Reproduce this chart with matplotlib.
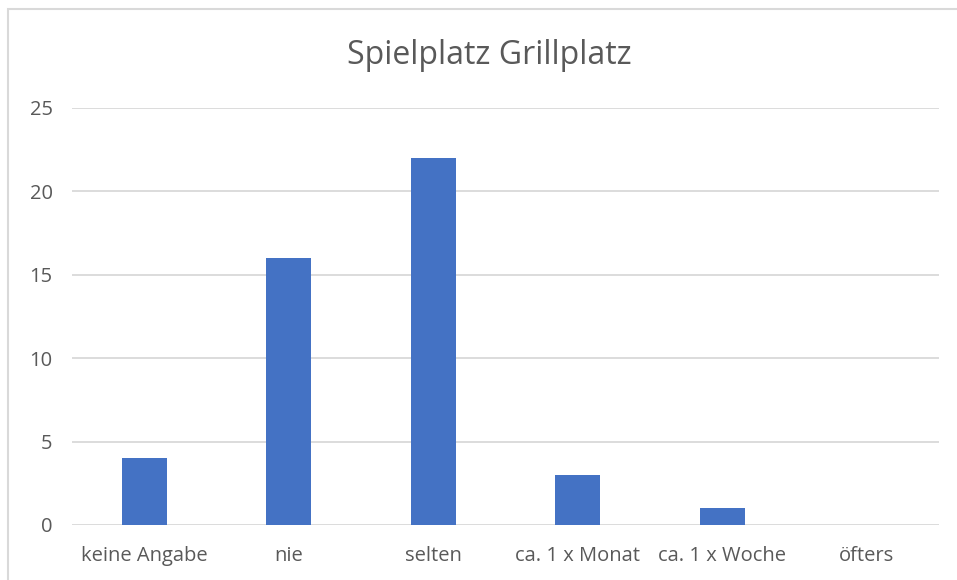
import matplotlib
matplotlib.use("Agg")
import matplotlib.pyplot as plt
from matplotlib.patches import Rectangle

categories = ["keine Angabe", "nie", "selten", "ca. 1 x Monat", "ca. 1 x Woche", "öfters"]
values = [4, 16, 22, 3, 1, 0]
yticks = [0, 5, 10, 15, 20, 25]

W, H = 957, 580
plt.rcParams['font.family'] = ['Open Sans', 'DejaVu Sans']

fig = plt.figure(figsize=(W / 100, H / 100), dpi=100)
ax = fig.add_axes([72 / W, 1 - 525 / H, (939 - 72) / W, (525 - 108) / H])

text_color = "#595959"
grid_color = "#D9D9D9"

ax.bar(range(len(categories)), values, width=0.31, color="#4472C4", zorder=3)
ax.set_xlim(-0.5, len(categories) - 0.5)
ax.set_ylim(0, 25)
ax.set_yticks(yticks)
ax.set_xticks(range(len(categories)))
ax.set_xticklabels(categories)
ax.yaxis.grid(True, color=grid_color, linewidth=1.3, zorder=0)
for s in ax.spines.values():
    s.set_visible(False)
ax.tick_params(axis="both", length=0, labelcolor=text_color, labelsize=14.5)
ax.tick_params(axis="y", pad=14)
ax.tick_params(axis="x", pad=15)

fig.text(489 / W, 1 - 56 / H, "Spielplatz Grillplatz", ha="center", va="center",
         fontsize=23, color=text_color)

# chart frame
fig.patches.append(Rectangle((8 / W, -0.1), 1.2, 1 - 9 / H + 0.1, transform=fig.transFigure,
                             fill=False, edgecolor=grid_color, linewidth=1.5))

fig.savefig("out.png", dpi=100, facecolor="white")
